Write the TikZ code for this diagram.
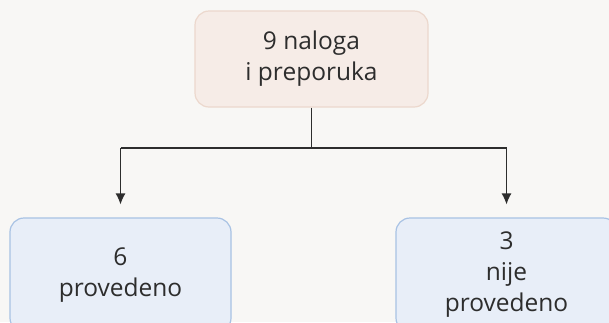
\documentclass[tikz,border=0pt]{standalone}
\usepackage{fontspec}
\setmainfont{Open Sans}
\usetikzlibrary{positioning,arrows.meta}
\definecolor{bgcol}{RGB}{248,247,245}
\definecolor{topfill}{RGB}{246,236,231}
\definecolor{topline}{RGB}{236,216,205}
\definecolor{boxfill}{RGB}{232,238,248}
\definecolor{boxline}{RGB}{168,194,228}
\definecolor{linecol}{RGB}{45,45,45}
\tikzset{basic/.style={rounded corners=14pt,line width=1.2pt,align=center,font=\fontsize{24.5}{31}\selectfont,text=linecol}}
\tikzset{total/.style={basic,draw=topline,fill=topfill,minimum width=233pt,minimum height=96pt}}
\tikzset{result/.style={basic,draw=boxline,fill=boxfill,minimum width=221pt,minimum height=114pt}}
\tikzset{link/.style={draw=linecol,line width=1.2pt}}

\begin{document}
\begin{tikzpicture}[x=1pt,y=-1pt]
        \useasboundingbox[fill=bgcol] (0,0) rectangle (609,322);
        \clip (0,0) rectangle (609,322);
        \node[total] (top) at (311.5,59) {9 naloga\\i preporuka};
        \node[result] (done) at (120.5,275) {6\\provedeno};
        \node[result] (notdone) at (506.5,275) {3\\nije\\provedeno};
        \coordinate (split) at (311.5,148);
        \coordinate (left) at (done.north |- split);
        \coordinate (right) at (notdone.north |- split);
            \path[link] (top) -- (split);
            \path[link] (left) -- (right);
            \path[link,-{Latex[length=11pt,width=10pt]}] (left) -- ([yshift=13pt]done.north);
            \path[link,-{Latex[length=11pt,width=10pt]}] (right) -- ([yshift=13pt]notdone.north);
    \end{tikzpicture}
\end{document}
